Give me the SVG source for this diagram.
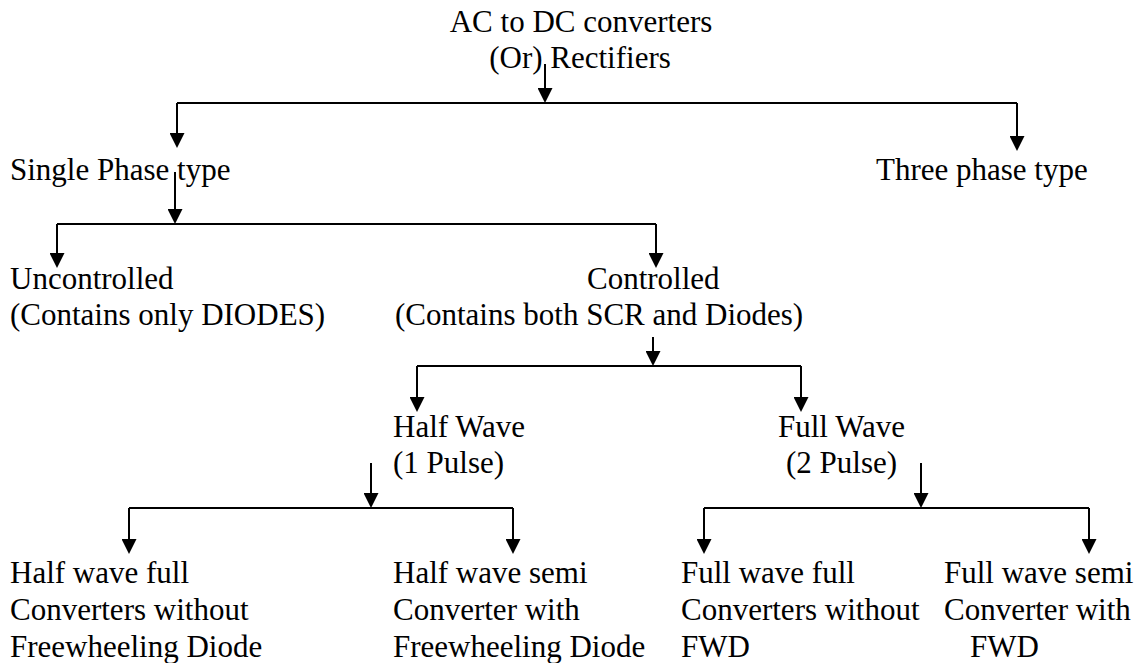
<svg xmlns="http://www.w3.org/2000/svg" width="1145" height="663" viewBox="0 0 1145 663">
  <style>
    text { font-family: "Liberation Serif", "Times New Roman", serif; font-size: 31px; fill: #000; }
    .ln { fill: none; stroke: #000; stroke-width: 2; }
    .ar { fill: none; stroke: #000; stroke-width: 2; marker-end: url(#ah); }
  </style>
  <defs>
    <marker id="ah" markerUnits="userSpaceOnUse" markerWidth="15" markerHeight="15" refX="11" refY="7.5" orient="auto" viewBox="0 0 15 15">
      <path d="M0,0 L15,7.5 L0,15 Z" fill="#000"/>
    </marker>
  </defs>
  <rect width="1145" height="663" fill="#fff"/>

  <g id="connectors">
    <path class="ar" d="M545,64 V99"/>
    <path class="ln" d="M177,103 H1017"/>
    <path class="ar" d="M177,103 V144"/>
    <path class="ar" d="M1017,103 V147"/>

    <path class="ar" d="M175,172 V220"/>
    <path class="ln" d="M57,224 H656"/>
    <path class="ar" d="M57,224 V264"/>
    <path class="ar" d="M656,224 V264"/>

    <path class="ar" d="M653,337 V362"/>
    <path class="ln" d="M417,366 H801"/>
    <path class="ar" d="M417,366 V408"/>
    <path class="ar" d="M801,366 V408"/>

    <path class="ar" d="M371,463 V504"/>
    <path class="ln" d="M129,508 H513"/>
    <path class="ar" d="M129,508 V550"/>
    <path class="ar" d="M513,508 V550"/>

    <path class="ar" d="M921,463 V504"/>
    <path class="ln" d="M704,508 H1089"/>
    <path class="ar" d="M704,508 V550"/>
    <path class="ar" d="M1089,508 V550"/>
  </g>

  <g id="root">
    <text x="581" y="32" text-anchor="middle">AC to DC converters</text>
    <text x="580" y="68" text-anchor="middle">(Or) Rectifiers</text>
  </g>
  <g id="single-phase">
    <text x="10" y="180">Single Phase type</text>
  </g>
  <g id="three-phase">
    <text x="876" y="180">Three phase type</text>
  </g>
  <g id="uncontrolled">
    <text x="10" y="289">Uncontrolled</text>
    <text x="10" y="325">(Contains only DIODES)</text>
  </g>
  <g id="controlled">
    <text x="587" y="289">Controlled</text>
    <text x="395" y="325">(Contains both SCR and Diodes)</text>
  </g>
  <g id="half-wave">
    <text x="393" y="437">Half Wave</text>
    <text x="393" y="473">(1 Pulse)</text>
  </g>
  <g id="full-wave">
    <text x="778" y="437">Full Wave</text>
    <text x="786" y="473">(2 Pulse)</text>
  </g>
  <g id="hw-full">
    <text x="10" y="583">Half wave full</text>
    <text x="10" y="620">Converters without</text>
    <text x="10" y="657">Freewheeling Diode</text>
  </g>
  <g id="hw-semi">
    <text x="393" y="583">Half wave semi</text>
    <text x="393" y="620">Converter with</text>
    <text x="393" y="657">Freewheeling Diode</text>
  </g>
  <g id="fw-full">
    <text x="681" y="583">Full wave full</text>
    <text x="681" y="620">Converters without</text>
    <text x="681" y="657">FWD</text>
  </g>
  <g id="fw-semi">
    <text x="944" y="583">Full wave semi</text>
    <text x="944" y="620">Converter with</text>
    <text x="970" y="657">FWD</text>
  </g>
</svg>
